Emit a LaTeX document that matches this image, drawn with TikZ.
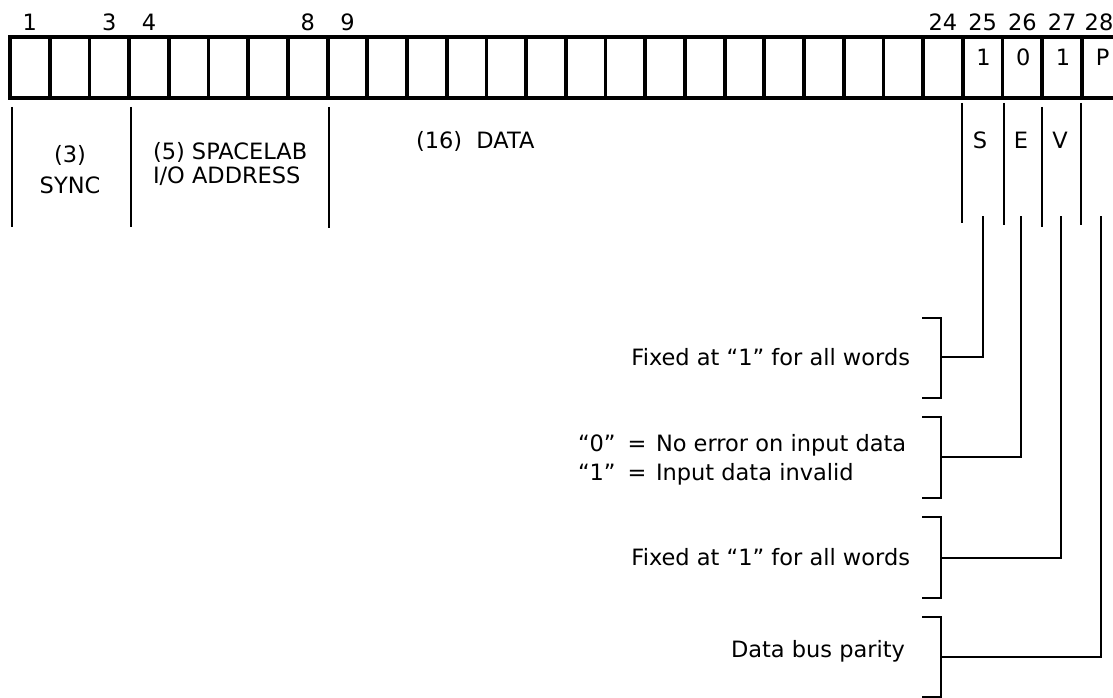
\documentclass[tikz,border=0pt]{standalone}
\usepackage{fontspec}
\setmainfont{DejaVu Sans}
\begin{document}
\begin{tikzpicture}[x=1pt,y=-1pt,
  every node/.style={inner sep=0pt,outer sep=0pt,font=\fontsize{22.5}{29}\selectfont},
  cellbox/.style={draw=black,line width=3.8pt},
  fieldline/.style={draw=black,line width=1.8pt},
  conn/.style={draw=black,line width=2pt},
  brk/.style={draw=black,line width=2.2pt}]
\useasboundingbox (0,0) rectangle (1113,698);
\fill[white] (0,0) rectangle (1113,698);
\clip (0,0) rectangle (1113,698);
% word cells
\foreach \i in {1,...,28}
  \draw[cellbox] ({10+(\i-1)*39.7},37) rectangle ({10+\i*39.7},98);
% bit numbers
\foreach \i in {1,3,4,8,9,24,25,26,27}
  \node[anchor=base] (n\i) at ({10+(\i-0.5)*39.7},31) {\i};
\node[anchor=base] (n28) at (1099,31) {28};
% fixed values
\node[anchor=base] (v25) at (983.5,66) {1};
\node[anchor=base] (v26) at (1023.2,66) {0};
\node[anchor=base] (v27) at (1062.9,66) {1};
\node[anchor=base] (v28) at (1102.6,66) {P};
% field delimiters
\draw[fieldline] (12,107) -- (12,227);
\draw[fieldline] (131,107) -- (131,227);
\draw[fieldline] (329,107) -- (329,228);
\draw[fieldline] (962,103) -- (962,223);
\draw[fieldline] (1004,103) -- (1004,225);
\draw[fieldline] (1042,107) -- (1042,227);
\draw[fieldline] (1081,103) -- (1081,225);
% field labels
\node[anchor=base] (f3) at (70,162) {(3)};
\node[anchor=base] (fsync) at (70,193) {SYNC};
\node[anchor=base west] (f5) at (153,159) {(5) SPACELAB};
\node[anchor=base west] (fio) at (153,183) {I/O ADDRESS};
\node[anchor=base west] (f16) at (416,149) {(16)\ \ DATA};
\node[anchor=base] (lS) at (980,148) {S};
\node[anchor=base] (lE) at (1021,148) {E};
\node[anchor=base] (lV) at (1060,148) {V};
% connector starts
\coordinate (cS) at (983,216);
\coordinate (cE) at (1021,216);
\coordinate (cV) at (1061,216);
\coordinate (cP) at (1101,216);
% descriptions
\node[anchor=base east] (d1) at (910,365) {Fixed at “1” for all words};
\node[anchor=base west] (d2a) at (578,451) {“0”};
\node[anchor=base west] (d2b) at (578,480) {“1”};
\node[anchor=base] (d2c) at (637,451) {=};
\node[anchor=base] (d2d) at (637,480) {=};
\node[anchor=base west] (d2e) at (656,451) {No error on input data};
\node[anchor=base west] (d2f) at (656,480) {Input data invalid};
\node[anchor=base east] (d3) at (910,565) {Fixed at “1” for all words};
\node[anchor=base east] (d4) at (905,657) {Data bus parity};
% brackets
\draw[brk] (922,318) -- (941,318) -- (941,398) -- (922,398);
\draw[brk] (922,417) -- (941,417) -- (941,498) -- (922,498);
\draw[brk] (922,517) -- (941,517) -- (941,598) -- (922,598);
\draw[brk] (922,617) -- (941,617) -- (941,697) -- (922,697);
\coordinate (b1) at (941,357);
\coordinate (b2) at (941,457);
\coordinate (b3) at (941,558);
\coordinate (b4) at (941,657);
% connectors
\draw[conn] (cS) |- (b1);
\draw[conn] (cE) |- (b2);
\draw[conn] (cV) |- (b3);
\draw[conn] (cP) |- (b4);
\end{tikzpicture}
\end{document}
